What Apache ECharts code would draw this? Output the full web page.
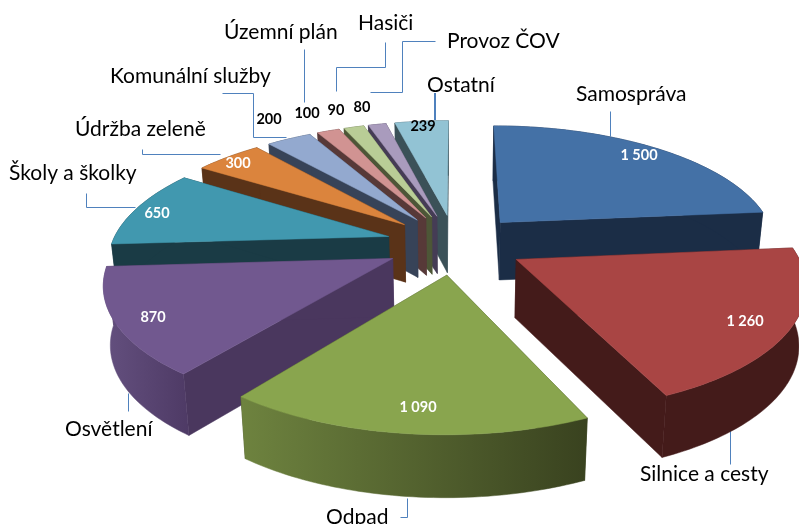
<!DOCTYPE html>
<html>
<head>
<meta charset="utf-8">
<style>
    html, body { margin: 0; padding: 0; background: #fff; }
    #pie3d { width: 799px; height: 524px; }
</style>
<script src="https://cdn.jsdelivr.net/npm/echarts@6/dist/echarts.min.js"></script>
</head>
<body>
<div id="pie3d"></div>
<script>
var categories = ['Samospráva', 'Silnice a cesty', 'Odpad', 'Osvětlení', 'Školy a školky', 'Údržba zeleně',
    'Komunální služby', 'Územní plán', 'Hasiči', 'Provoz ČOV', 'Ostatní'];
var values = [1500, 1260, 1090, 870, 650, 300, 200, 100, 90, 80, 239];

var topColors = ['#4471A6', '#A94544', '#89A54E', '#71588F', '#4198AF', '#DB843D',
    '#93A9CF', '#D19392', '#B9CD96', '#A99BBD', '#92C3D4'];
var wallColors = ['#1B2D46', '#441B1A', '#3F4822', '#4A375E', '#1A3B45', '#5A3318',
    '#374358', '#573938', '#4D5637', '#453C55', '#3B5158'];
// odpad a osvetleni maji na oblouku prechod
var arcGradients = { 2: ['#6E833F', '#39421F'], 3: ['#64507F', '#4E3A65'] };

// poradi kresleni odzadu dopredu
var drawOrder = [10, 9, 8, 7, 6, 5, 4, 3, 0, 1, 2];

/* popisky */
var labelBoxes = [[576, 94], [640, 474], [326, 517], [65, 429], [9, 173], [75, 129],
    [110, 76], [224, 32], [358, 23], [447, 41], [427, 85]];
var valueBoxes = [[639, 155], [745, 321], [418, 407], [153, 317], [157, 213], [238, 163],
    [269, 119], [307, 113], [336, 110], [362, 107], [423, 126]];
var valueColors = ['#fff', '#fff', '#fff', '#fff', '#fff', '#fff', '#000', '#000', '#000', '#000', '#000'];
var leaders = [
    [[610, 111], [610, 136]],
    [[730, 428], [730, 464]],
    [[407, 498], [407, 517], [400, 517]],
    [[128, 393], [128, 411]],
    [[86, 193], [86, 207], [135, 207]],
    [[142, 149], [142, 154], [220, 154]],
    [[222, 93], [253, 93], [253, 137], [286, 137]],
    [[304, 49], [304, 102]],
    [[385, 42], [385, 67], [336, 67], [336, 91]],
    [[435, 41], [402, 41], [402, 92], [370, 92]],
    [[435, 93], [435, 120]]
];

/* projekce - rovina kolace s perspektivou */
var CX = 455, CY = 244, RX = 277, RY = 120, PERSP = 0.172, EXPLODE = 0.25;

function project(u, v, drop) {
    var s = 1 / (1 - PERSP * v);
    var x = CX + RX * u * s;
    var y = CY + RY * v * s;
    if (drop) {
        x = CX + (x - CX) * 0.98;
        y = y + 40 + 18 * s;
    }
    return [x, y];
}

var total = values.reduce(function (a, b) { return a + b; }, 0);
var slices = [];
var acc = 0;
for (var i = 0; i < values.length; i++) {
    var start = acc / total * 2 * Math.PI;
    acc += values[i];
    var end = acc / total * 2 * Math.PI;
    var mid = (start + end) / 2;
    slices.push({ start: start, end: end, ox: Math.sin(mid) * EXPLODE, oy: -Math.cos(mid) * EXPLODE });
}

function rim(sl, drop) {
    var pts = [];
    var n = Math.max(2, Math.ceil((sl.end - sl.start) / 0.02));
    for (var k = 0; k <= n; k++) {
        var a = sl.start + (sl.end - sl.start) * k / n;
        pts.push(project(sl.ox + Math.sin(a), sl.oy - Math.cos(a), drop));
    }
    return pts;
}

function poly(points, fill) {
    return { type: 'polygon', shape: { points: points }, style: { fill: fill, stroke: fill, lineWidth: 0.5 } };
}

function renderSlice(params, api) {
    var idx = api.value(0);
    var sl = slices[idx];
    var top = rim(sl, false);
    var bottom = rim(sl, true);
    var apex = project(sl.ox, sl.oy, false);
    var apexLow = project(sl.ox, sl.oy, true);
    var wall = wallColors[idx];
    var arcFill = wall;
    if (arcGradients[idx]) {
        arcFill = new echarts.graphic.LinearGradient(0, 0, 1, 0, [
            { offset: 0, color: arcGradients[idx][0] },
            { offset: 1, color: arcGradients[idx][1] }
        ]);
    }
    var arcPts = top.concat(bottom.slice().reverse());
    return {
        type: 'group',
        children: [
            poly([apex, top[0], bottom[0], apexLow], wall),
            poly([apex, top[top.length - 1], bottom[bottom.length - 1], apexLow], wall),
            poly(arcPts, arcFill),
            poly([apex].concat(top), topColors[idx]),
            {
                type: 'text',
                z2: 10,
                style: {
                    x: valueBoxes[idx][0], y: valueBoxes[idx][1],
                    text: formatValue(values[idx]),
                    fill: valueColors[idx],
                    font: 'bold 14.5px Lato',
                    align: 'center', verticalAlign: 'middle'
                }
            }
        ]
    };
}

function formatValue(v) {
    return v >= 1000 ? Math.floor(v / 1000) + ' ' + String(v % 1000 + 1000).slice(1) : String(v);
}

var graphics = [];
leaders.forEach(function (pts, i) {
    var thick = i === 10;
    graphics.push({
        type: 'polyline',
        x: thick ? 0 : 0.5,
        y: thick ? 0 : 0.5,
        shape: { points: pts },
        style: { stroke: '#4F81BD', lineWidth: thick ? 2 : 1, fill: null }
    });
});
categories.forEach(function (name, i) {
    graphics.push({
        type: 'text',
        style: {
            x: labelBoxes[i][0], y: labelBoxes[i][1],
            text: name,
            fill: '#000',
            font: '21px Lato',
            verticalAlign: 'middle'
        }
    });
});

var myChart = echarts.init(document.getElementById('pie3d'));
var option = {
    backgroundColor: '#fff',
    animation: false,
    graphic: graphics,
    series: [{
        type: 'custom',
        coordinateSystem: 'none',
        renderItem: renderSlice,
        data: drawOrder.map(function (idx) { return [idx, values[idx]]; })
    }]
};
myChart.setOption(option);
</script>
</body>
</html>
